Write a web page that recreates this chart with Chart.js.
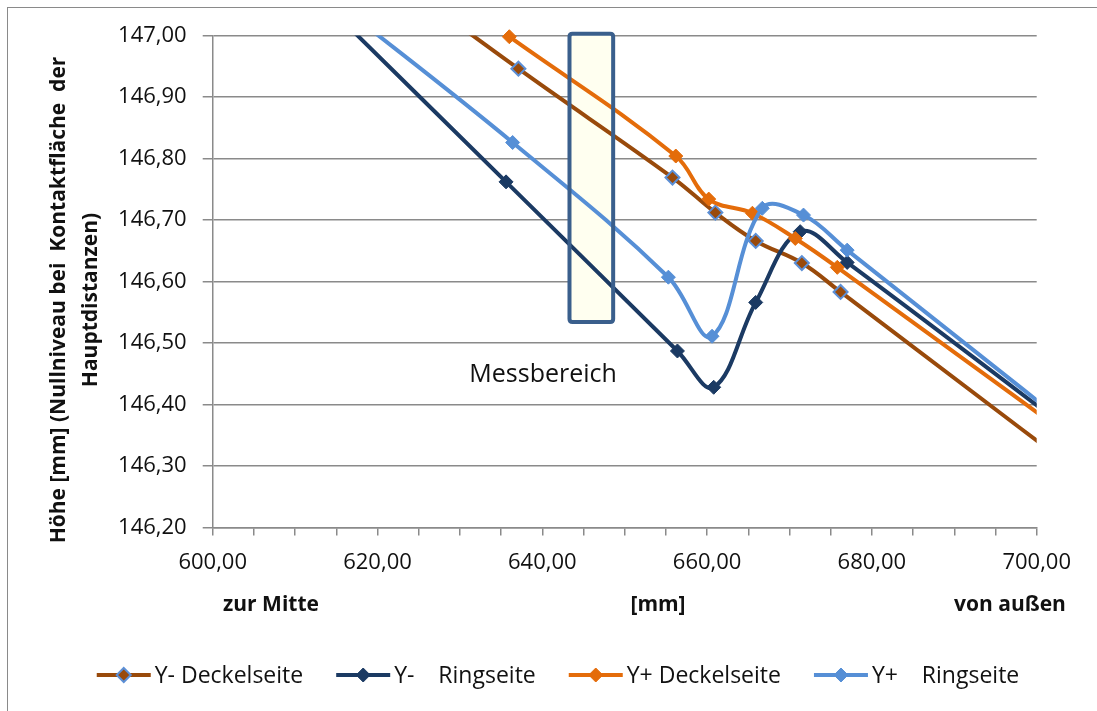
<!DOCTYPE html>
<html>
<head>
<meta charset="utf-8">
<script src="https://cdn.jsdelivr.net/npm/chart.js@4.4.1/dist/chart.umd.min.js"></script>
<style>
  html, body { margin: 0; padding: 0; background: #ffffff; }
  #wrap { width: 1097px; height: 711px; position: relative; }
</style>
</head>
<body>
<div id="wrap"><canvas id="c" width="1097" height="711"></canvas></div>
<script>
// Measured heights across the contact surface (x in mm, height in mm)
const seriesNames = ['Y- Deckelseite', 'Y-    Ringseite', 'Y+ Deckelseite', 'Y+    Ringseite'];

const xYminusDeckel = [615, 637.1, 655.8, 661.0, 665.9, 671.5, 676.2, 720];
const hYminusDeckel = [147.163, 146.946, 146.769, 146.712, 146.666, 146.630, 146.583, 146.138];

const xYminusRing = [615, 635.6, 656.4, 660.8, 665.9, 671.3, 677.0, 720];
const hYminusRing = [147.034, 146.762, 146.487, 146.428, 146.566, 146.681, 146.631, 146.195];

const xYplusDeckel = [636.0, 656.2, 660.2, 665.5, 670.7, 675.8, 720];
const hYplusDeckel = [146.998, 146.804, 146.734, 146.711, 146.670, 146.623, 146.192];

const xYplusRing = [615, 636.4, 655.3, 660.6, 666.7, 671.7, 677.0, 720];
const hYplusRing = [147.054, 146.826, 146.607, 146.511, 146.719, 146.708, 146.651, 146.195];

// Measuring window (mm / height range)
const messbereichX = [643.3, 648.6];
const messbereichY = [146.534, 147.003];
const messbereichLabel = 'Messbereich';
const messbereichLabelAt = [640.1, 146.448];

// Axis ranges and captions
const xRange = [600, 700];
const yRange = [146.2, 147.0];
const yTitleLines = ['Höhe [mm] (Nullniveau bei  Kontaktfläche  der', 'Hauptdistanzen)'];
const xCaptions = ['zur Mitte', '[mm]', 'von außen'];

const FONT = '"Open Sans", "Liberation Sans", sans-serif';
const colors = ['#994a0b', '#1b3a63', '#e46c0a', '#568fd6'];
const markerBorders = ['#5b8fd6', '#1b3a63', '#e46c0a', '#568fd6'];

function toPoints(xs, ys) { return xs.map((x, i) => ({ x: x, y: ys[i] })); }
function comma(v) { return v.toFixed(2).replace('.', ','); }

const pointSets = [
  toPoints(xYminusDeckel, hYminusDeckel),
  toPoints(xYminusRing, hYminusRing),
  toPoints(xYplusDeckel, hYplusDeckel),
  toPoints(xYplusRing, hYplusRing)
];

const datasets = pointSets.map((pts, i) => ({
  label: seriesNames[i],
  data: pts,
  showLine: true,
  borderColor: colors[i],
  backgroundColor: colors[i],
  borderWidth: 4,
  tension: 0.38,
  pointStyle: 'rectRot',
  pointRadius: 7,
  pointHoverRadius: 7,
  pointBackgroundColor: colors[i],
  pointBorderColor: markerBorders[i],
  pointBorderWidth: i === 0 ? 2 : 1,
  clip: i === 2 ? { left: 0, top: 8, right: 0, bottom: 0 } : 0,
  order: 4 - i
}));

function drawDiamond(ctx, x, y, r, fill, stroke, lw) {
  ctx.beginPath();
  ctx.moveTo(x, y - r);
  ctx.lineTo(x + r, y);
  ctx.lineTo(x, y + r);
  ctx.lineTo(x - r, y);
  ctx.closePath();
  ctx.fillStyle = fill;
  ctx.fill();
  ctx.lineWidth = lw;
  ctx.strokeStyle = stroke;
  ctx.stroke();
}

function roundRectPath(ctx, x, y, w, h, r) {
  ctx.beginPath();
  ctx.moveTo(x + r, y);
  ctx.lineTo(x + w - r, y);
  ctx.quadraticCurveTo(x + w, y, x + w, y + r);
  ctx.lineTo(x + w, y + h - r);
  ctx.quadraticCurveTo(x + w, y + h, x + w - r, y + h);
  ctx.lineTo(x + r, y + h);
  ctx.quadraticCurveTo(x, y + h, x, y + h - r);
  ctx.lineTo(x, y + r);
  ctx.quadraticCurveTo(x, y, x + r, y);
  ctx.closePath();
}

const decor = {
  id: 'decor',
  beforeDatasetsDraw(chart) {
    const { ctx, scales: { x, y } } = chart;
    const x0 = x.getPixelForValue(messbereichX[0]);
    const x1 = x.getPixelForValue(messbereichX[1]);
    const y0 = y.getPixelForValue(messbereichY[1]);
    const y1 = y.getPixelForValue(messbereichY[0]);
    ctx.save();
    roundRectPath(ctx, x0, y0, x1 - x0, y1 - y0, 3);
    ctx.fillStyle = '#fffff0';
    ctx.fill();
    ctx.restore();
  },
  afterDatasetsDraw(chart) {
    const { ctx, scales: { x, y } } = chart;
    const x0 = x.getPixelForValue(messbereichX[0]);
    const x1 = x.getPixelForValue(messbereichX[1]);
    const y0 = y.getPixelForValue(messbereichY[1]);
    const y1 = y.getPixelForValue(messbereichY[0]);
    ctx.save();
    roundRectPath(ctx, x0, y0, x1 - x0, y1 - y0, 3);
    ctx.lineWidth = 4;
    ctx.strokeStyle = '#3a5f8c';
    ctx.stroke();
    ctx.font = '25px ' + FONT;
    ctx.fillStyle = '#111111';
    ctx.textAlign = 'center';
    ctx.textBaseline = 'middle';
    ctx.fillText(messbereichLabel, x.getPixelForValue(messbereichLabelAt[0]), y.getPixelForValue(messbereichLabelAt[1]));
    ctx.restore();
  },
  afterDraw(chart) {
    const { ctx } = chart;
    ctx.save();
    // frame
    ctx.strokeStyle = '#8a8a8a';
    ctx.lineWidth = 1;
    ctx.strokeRect(7.5, 7.5, 1200, 800);

    // y axis title (two rotated lines)
    ctx.fillStyle = '#111111';
    ctx.font = 'bold 21px ' + FONT;
    ctx.textAlign = 'center';
    ctx.textBaseline = 'middle';
    const cy = 300;
    [59, 91].forEach((cx, i) => {
      ctx.save();
      ctx.translate(cx, cy);
      ctx.rotate(-Math.PI / 2);
      ctx.fillText(yTitleLines[i], 0, 0);
      ctx.restore();
    });

    // x captions under the axis
    const capX = [271, 658, 1010];
    xCaptions.forEach((t, i) => ctx.fillText(t, capX[i], 605));

    // legend
    ctx.font = '23px ' + FONT;
    const lineLen = 54, gapText = 4, gapItem = 33;
    const widths = seriesNames.map(n => ctx.measureText(n).width);
    const total = widths.reduce((a, w) => a + lineLen + gapText + w, 0) + gapItem * (seriesNames.length - 1);
    let lx = 558 - total / 2;
    const ly = 675;
    seriesNames.forEach((n, i) => {
      ctx.beginPath();
      ctx.moveTo(lx, ly);
      ctx.lineTo(lx + lineLen, ly);
      ctx.strokeStyle = colors[i];
      ctx.lineWidth = 4;
      ctx.stroke();
      drawDiamond(ctx, lx + lineLen / 2, ly, 7, colors[i], markerBorders[i], i === 0 ? 2 : 1);
      ctx.fillStyle = '#111111';
      ctx.textAlign = 'left';
      ctx.fillText(n, lx + lineLen + gapText, ly + 1);
      lx += lineLen + gapText + widths[i] + gapItem;
    });
    ctx.restore();
  }
};

new Chart(document.getElementById('c'), {
  type: 'scatter',
  data: { datasets: datasets },
  plugins: [decor],
  options: {
    responsive: false,
    animation: false,
    devicePixelRatio: 1,
    layout: { padding: { top: 35.5, right: 60.3, bottom: 0, left: 0 } },
    elements: { line: { capBezierPoints: false } },
    plugins: {
      legend: { display: false },
      tooltip: { enabled: false }
    },
    scales: {
      x: {
        type: 'linear',
        min: xRange[0],
        max: xRange[1],
        afterFit(scale) { scale.height = 711 - 527.5; },
        ticks: {
          stepSize: 5,
          autoSkip: false,
          maxRotation: 0,
          padding: 14,
          color: '#111111',
          font: { family: FONT, size: 22 },
          callback: v => (Math.round(v) % 20 === 0 ? comma(v) : '')
        },
        grid: { drawOnChartArea: false, drawTicks: true, tickLength: 8, color: '#8a8a8a', lineWidth: 1.5 },
        border: { display: true, color: '#8a8a8a', width: 1.5 }
      },
      y: {
        type: 'linear',
        min: yRange[0],
        max: yRange[1],
        afterFit(scale) { scale.width = 212.7; },
        ticks: {
          stepSize: 0.1,
          padding: 16,
          color: '#111111',
          font: { family: FONT, size: 22 },
          callback: v => comma(v)
        },
        grid: { color: '#8a8a8a', lineWidth: 1.5, tickLength: 10, drawTicks: true },
        border: { display: true, color: '#8a8a8a', width: 1.5 }
      }
    }
  }
});
</script>
</body>
</html>
